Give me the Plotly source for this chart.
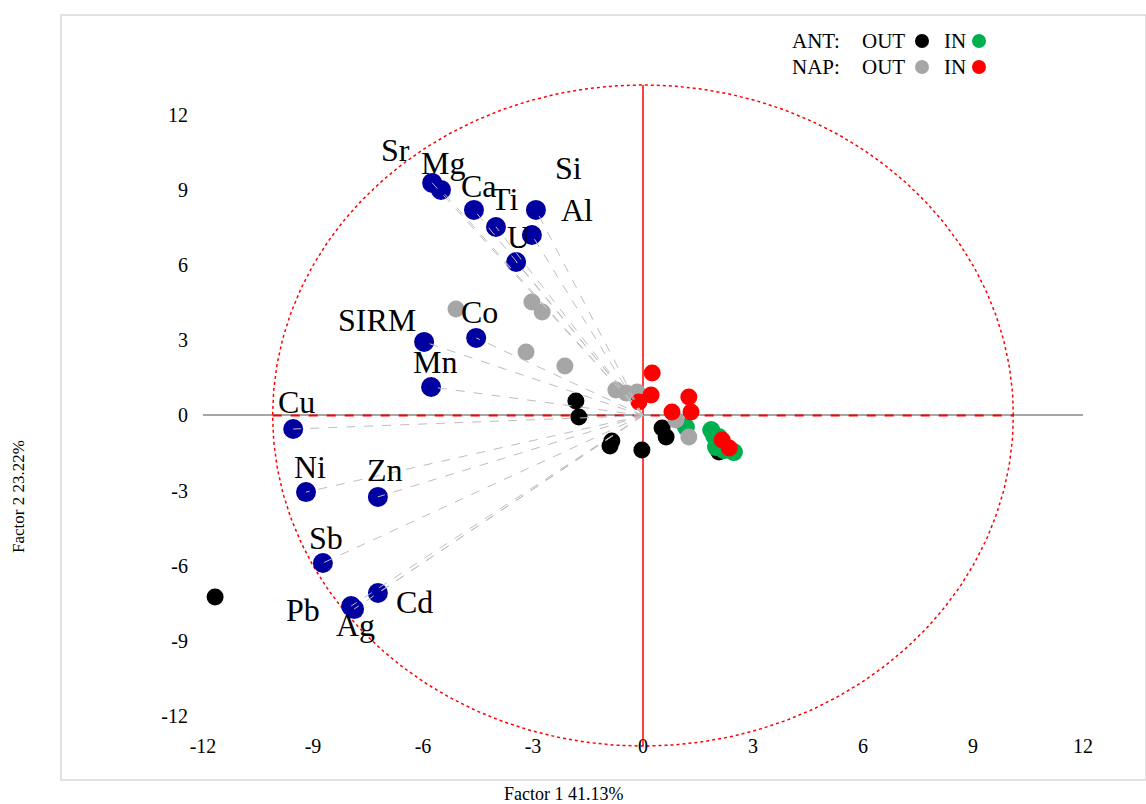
import numpy as np
import plotly.graph_objects as go

# ---- variable loadings (Factor 1, Factor 2) ----
var_names = ["Sr", "Mg", "Ca", "Ti", "Si", "Al", "U", "SIRM", "Co", "Mn",
             "Cu", "Ni", "Zn", "Sb", "Cd", "Pb", "Ag"]
var_f1 = [-5.75, -5.51, -4.61, -4.01, -2.92, -3.03, -3.46, -5.97, -4.55, -5.78,
          -9.54, -9.19, -7.23, -8.73, -7.23, -7.96, -7.88]
var_f2 = [9.29, 9.01, 8.21, 7.53, 8.21, 7.21, 6.13, 2.94, 3.10, 1.14,
          -0.54, -3.06, -3.25, -5.89, -7.09, -7.61, -7.73]

# ---- sample scores ----
ant_out_f1 = [-11.67, -1.83, -1.75, -0.85, -0.90, -0.03, 0.52, 0.63, 2.07]
ant_out_f2 = [-7.25, 0.58, -0.06, -1.02, -1.22, -1.38, -0.50, -0.86, -1.46]
ant_in_f1 = [1.17, 1.86, 2.07, 1.94, 1.99, 2.21, 2.48]
ant_in_f2 = [-0.46, -0.58, -0.86, -0.82, -1.26, -1.38, -1.46]
nap_out_f1 = [-5.10, -3.03, -2.75, -3.19, -2.13, -0.74, -0.46, -0.16, 0.90, 1.25]
nap_out_f2 = [4.25, 4.53, 4.13, 2.54, 1.98, 1.02, 0.90, 0.94, -0.18, -0.86]
nap_in_f1 = [0.25, 0.22, -0.11, 1.25, 1.31, 0.79, 2.16, 2.35]
nap_in_f2 = [1.70, 0.82, 0.54, 0.74, 0.14, 0.14, -0.98, -1.30]

axis_ticks = [-12, -9, -6, -3, 0, 3, 6, 9, 12]
axis_tick_text = ["-12", "-9", "-6", "-3", "0", "3", "6", "9", "12"]
x_title = "Factor 1 41.13%"
y_title = "Factor 2 23.22%"

# label offsets (pixels) relative to each loading marker
label_shift = {
    "Sr": (-37, 33), "Mg": (2, 27), "Ca": (5, 24), "Ti": (9, 28),
    "Si": (33, 42), "Al": (45, 25), "U": (2, 25), "SIRM": (-47, 22),
    "Co": (3, 26), "Mn": (4, 25), "Cu": (3, 27), "Ni": (4, 25),
    "Zn": (7, 27), "Sb": (3, 25), "Cd": (37, -9), "Pb": (-48, -4),
    "Ag": (1, -16),
}

W, H = 1146, 804
SERIF = "Liberation Serif, Times New Roman, serif"

# plot-area placement in pixels
px_left, px_right = 203, 1083
y_lo, y_hi = -13.45, 13.55
px_per_y = 25.04
px_zero_y = 415.5
px_top = px_zero_y - y_hi * px_per_y
px_bot = px_zero_y - y_lo * px_per_y

fig = go.Figure()

# reference ellipse and red cross
t = np.linspace(0, 2 * np.pi, 400)
rx, ry = 10.1, 13.2
fig.add_trace(go.Scatter(x=rx * np.cos(t), y=ry * np.sin(t), mode="lines",
                         line=dict(color="#ff0000", width=1.5, dash="dot"),
                         hoverinfo="skip", showlegend=False))
fig.add_trace(go.Scatter(x=[-rx, rx], y=[0, 0], mode="lines",
                         line=dict(color="#ff0000", width=2, dash="dash"),
                         hoverinfo="skip", showlegend=False))
fig.add_trace(go.Scatter(x=[0, 0], y=[-ry, ry], mode="lines",
                         line=dict(color="#ff0000", width=1.5),
                         hoverinfo="skip", showlegend=False))

# sample groups
groups = [
    (ant_out_f1, ant_out_f2, "#000000", 17),
    (ant_in_f1, ant_in_f2, "#00b050", 18),
    (nap_out_f1, nap_out_f2, "#a6a6a6", 17),
    (nap_in_f1, nap_in_f2, "#ff0000", 17),
]
for gx, gy, col, sz in groups:
    fig.add_trace(go.Scatter(x=gx, y=gy, mode="markers",
                             marker=dict(color=col, size=sz, line=dict(width=0)),
                             showlegend=False, cliponaxis=False))

# loadings
fig.add_trace(go.Scatter(x=var_f1, y=var_f2, mode="markers",
                         marker=dict(color="#0000a0", size=20, line=dict(width=0)),
                         showlegend=False, cliponaxis=False))

# dashed vectors from origin to each loading
vx, vy = [], []
for a, b in zip(var_f1, var_f2):
    vx += [0, a, None]
    vy += [0, b, None]
fig.add_trace(go.Scatter(x=vx, y=vy, mode="lines",
                         line=dict(color="#bdbdbd", width=1, dash="dash"),
                         hoverinfo="skip", showlegend=False))

# variable labels
for n, a, b in zip(var_names, var_f1, var_f2):
    dx, dy = label_shift[n]
    fig.add_annotation(x=a, y=b, text=n, showarrow=False, xshift=dx, yshift=dy,
                       font=dict(family=SERIF, size=32, color="#000000"))

# legend (pixel-space axes spanning the whole figure)
leg_dot_x = [922, 979, 922, 979]
leg_dot_y = [41, 41, 67, 67]
leg_cols = ["#000000", "#00b050", "#a6a6a6", "#ff0000"]
fig.add_trace(go.Scatter(x=leg_dot_x, y=leg_dot_y, xaxis="x2", yaxis="y2",
                         mode="markers", marker=dict(color=leg_cols, size=14),
                         showlegend=False, hoverinfo="skip"))
leg_text = [("ANT:", 790, 41), ("OUT", 860, 41), ("IN", 942, 41),
            ("NAP:", 790, 67), ("OUT", 860, 67), ("IN", 942, 67)]
for txt, lx, ly in leg_text:
    fig.add_annotation(x=lx / W, y=1 - ly / H, xref="paper", yref="paper",
                       text=txt, showarrow=False, xanchor="left", yanchor="middle",
                       font=dict(family=SERIF, size=21, color="#000000"))

# axis titles
fig.add_annotation(x=563 / W, y=1 - 794 / H, xref="paper", yref="paper",
                   text=x_title, showarrow=False, xanchor="center", yanchor="middle",
                   font=dict(family=SERIF, size=18, color="#000000"))
fig.add_annotation(x=18 / W, y=1 - 497 / H, xref="paper", yref="paper",
                   text=y_title, showarrow=False, textangle=-90,
                   xanchor="center", yanchor="middle",
                   font=dict(family=SERIF, size=17, color="#000000"))

# outer chart border
fig.add_shape(type="rect", xref="paper", yref="paper",
              x0=61 / W, x1=1.0, y0=1 - 780 / H, y1=1 - 15 / H,
              line=dict(color="#d9d9d9", width=1.5), fillcolor="rgba(0,0,0,0)",
              layer="below")

fig.update_layout(
    width=W, height=H,
    autosize=False,
    margin=dict(l=0, r=0, t=0, b=0, pad=0, autoexpand=False),
    paper_bgcolor="white", plot_bgcolor="rgba(0,0,0,0)",
    showlegend=False,
    xaxis=dict(domain=[px_left / W, px_right / W], range=[-12, 12],
               tickvals=axis_ticks, ticktext=axis_tick_text,
               showgrid=False, zeroline=False, automargin=False,
               showline=False, ticks="", anchor="free",
               position=1 - 732 / H,
               tickfont=dict(family=SERIF, size=20, color="#000000")),
    yaxis=dict(domain=[1 - px_bot / H, 1 - px_top / H], range=[y_lo, y_hi],
               tickvals=axis_ticks, ticktext=axis_tick_text,
               showgrid=False, zeroline=True, automargin=False,
               zerolinecolor="#a6a6a6", zerolinewidth=1.5,
               showline=False, ticks="", ticklabelstandoff=14,
               tickfont=dict(family=SERIF, size=20, color="#000000")),
    xaxis2=dict(domain=[0, 1], range=[0, W], visible=False, anchor="y2",
                automargin=False),
    yaxis2=dict(domain=[0, 1], range=[H, 0], visible=False, anchor="x2",
                automargin=False),
)

fig.write_html("out.html", config={"responsive": False})
